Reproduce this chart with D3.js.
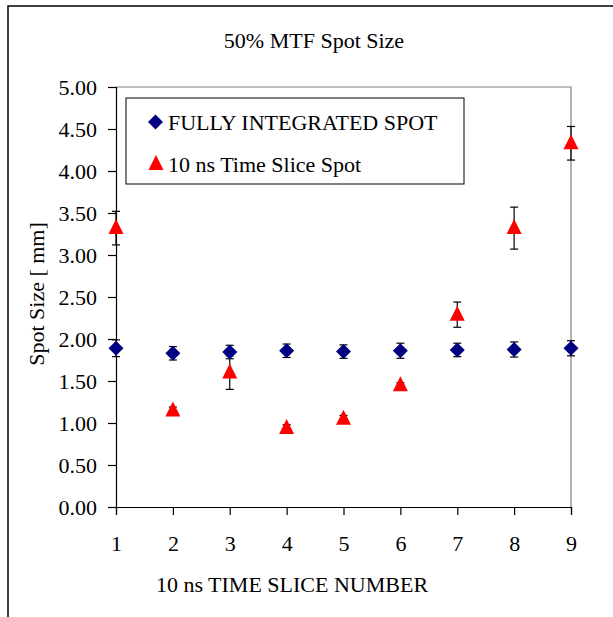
<!DOCTYPE html>
<html><head><meta charset="utf-8">
<script src="https://cdn.jsdelivr.net/npm/d3@7"></script>
<style>body{margin:0;background:#fff}svg{display:block}</style>
</head><body>
<script>
const slices = [1,2,3,4,5,6,7,8,9];
const integratedValues = [1.89,1.83,1.845,1.86,1.85,1.86,1.87,1.875,1.89];
const integratedErr = [0.1,0.08,0.08,0.08,0.08,0.09,0.08,0.09,0.09];
const sliceValues = [3.32,1.15,1.60,0.94,1.05,1.45,2.29,3.32,4.33];
const sliceErr = [0.2,0.04,0.2,0.04,0.04,0.03,0.15,0.25,0.2];
const yTicks = [0,0.5,1,1.5,2,2.5,3,3.5,4,4.5,5];
const seriesNames = ["FULLY INTEGRATED SPOT","10 ns Time Slice Spot"];

const W=613,H=617;
const svg=d3.select("body").append("svg").attr("width",W).attr("height",H);
const font="'Liberation Serif','Times New Roman',serif";
const fs=22;
// outer frame
svg.append("rect").attr("x",8).attr("y",6).attr("width",W+10).attr("height",H+10)
  .attr("fill","none").attr("stroke","#000").attr("stroke-width",1.5);

const x=d3.scaleLinear().domain([1,9]).range([116,571]);
const y=d3.scaleLinear().domain([0,5]).range([507,87]);

// plot border (gray top/right)
svg.append("path").attr("d",`M${x(1)},${y(5)}H${x(9)}V${y(0)}`).attr("fill","none").attr("stroke","#808080").attr("stroke-width",1.2);

const yAxis=svg.append("g").attr("transform",`translate(${x(1)},0)`)
  .call(d3.axisLeft(y).tickValues(yTicks).tickFormat(d3.format(".2f")).tickSizeOuter(0).tickSize(8).tickPadding(11));
const xAxis=svg.append("g").attr("transform",`translate(0,${y(0)})`)
  .call(d3.axisBottom(x).tickValues(slices).tickFormat(d3.format("d")).tickSizeOuter(0).tickSize(8).tickPadding(20));
[yAxis,xAxis].forEach(g=>{
  g.selectAll("text").attr("font-family",font).attr("font-size",fs).attr("fill","#000");
  g.selectAll("line,path").attr("stroke","#000").attr("stroke-width",1.2);
});

svg.append("text").attr("x",314).attr("y",48).attr("text-anchor","middle")
  .attr("font-family",font).attr("font-size",fs).text("50% MTF Spot Size");
svg.append("text").attr("x",292).attr("y",592).attr("text-anchor","middle")
  .attr("font-family",font).attr("font-size",fs).text("10 ns TIME SLICE NUMBER");
svg.append("text").attr("transform",`translate(44,${y(2.5)-3}) rotate(-90)`).attr("text-anchor","middle")
  .attr("font-family",font).attr("font-size",fs).text("Spot Size [ mm]");

function errBars(vals,errs){
  const g=svg.append("g").attr("stroke","#000").attr("stroke-width",1.2);
  slices.forEach((s,i)=>{
    const cx=x(s),t=y(vals[i]+errs[i]),b=y(vals[i]-errs[i]);
    g.append("line").attr("x1",cx).attr("x2",cx).attr("y1",t).attr("y2",b);
    g.append("line").attr("x1",cx-4).attr("x2",cx+4).attr("y1",t).attr("y2",t);
    g.append("line").attr("x1",cx-4).attr("x2",cx+4).attr("y1",b).attr("y2",b);
  });
}
const diamond=(cx,cy,r)=>`M${cx},${cy-r}L${cx+r},${cy}L${cx},${cy+r}L${cx-r},${cy}Z`;
const tri=(cx,cy,s)=>`M${cx},${cy-s*0.6}L${cx+s/2},${cy+s*0.4}L${cx-s/2},${cy+s*0.4}Z`;

errBars(integratedValues,integratedErr);
errBars(sliceValues,sliceErr);
svg.append("g").selectAll("path").data(slices).join("path")
  .attr("d",(s,i)=>diamond(x(s),y(integratedValues[i]),7.5)).attr("fill","#000080");
svg.append("g").selectAll("path").data(slices).join("path")
  .attr("d",(s,i)=>tri(x(s),y(sliceValues[i]),15)).attr("fill","#ff0000");

// legend
svg.append("rect").attr("x",126).attr("y",98).attr("width",338).attr("height",86)
  .attr("fill","#fff").attr("stroke","#000").attr("stroke-width",1);
svg.append("path").attr("d",diamond(155.5,122,7.5)).attr("fill","#000080");
svg.append("path").attr("d",tri(156,164,15)).attr("fill","#ff0000");
svg.append("text").attr("x",168).attr("y",130).attr("font-family",font).attr("font-size",fs).text(seriesNames[0]);
svg.append("text").attr("x",168).attr("y",172).attr("font-family",font).attr("font-size",fs).text(seriesNames[1]);
</script>
</body></html>
